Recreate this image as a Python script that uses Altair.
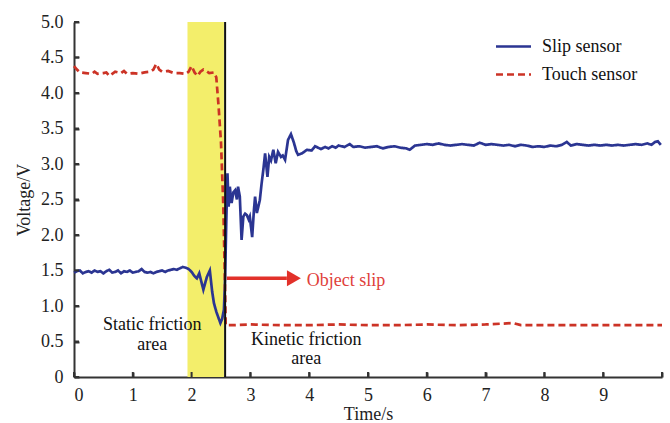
import altair as alt
import pandas as pd

# ---- data ----
slip_t = [0.00, 0.05, 0.10, 0.15, 0.20, 0.25, 0.30, 0.35, 0.40, 0.45, 0.50, 0.55, 0.60, 0.65, 0.70,
          0.75, 0.80, 0.85, 0.90, 0.95, 1.00, 1.05, 1.10, 1.15, 1.20, 1.25, 1.30, 1.35, 1.40, 1.45,
          1.50, 1.55, 1.60, 1.65, 1.70, 1.75, 1.80, 1.85, 1.90, 1.95, 2.00, 2.05, 2.09, 2.13, 2.20,
          2.26, 2.31, 2.35, 2.38, 2.42, 2.45, 2.49, 2.52, 2.55, 2.57, 2.59, 2.61, 2.63, 2.65, 2.68,
          2.71, 2.74, 2.77, 2.79, 2.82, 2.85, 2.88, 2.91, 2.94, 2.97, 2.99, 3.03, 3.06, 3.08, 3.11,
          3.16, 3.19, 3.22, 3.25, 3.29, 3.32, 3.35, 3.39, 3.43, 3.47, 3.52, 3.55, 3.59, 3.64, 3.69,
          3.74, 3.78, 3.81, 3.88, 3.96, 4.04, 4.10, 4.15, 4.20, 4.27, 4.33, 4.39, 4.45, 4.50, 4.60,
          4.69, 4.75, 4.85, 4.95, 5.05, 5.15, 5.25, 5.35, 5.45, 5.55, 5.65, 5.71, 5.80, 5.90, 6.00,
          6.10, 6.20, 6.30, 6.40, 6.50, 6.60, 6.70, 6.80, 6.90, 7.00, 7.10, 7.20, 7.30, 7.40, 7.50,
          7.60, 7.70, 7.80, 7.90, 8.00, 8.10, 8.20, 8.30, 8.38, 8.45, 8.55, 8.65, 8.75, 8.85, 8.95,
          9.05, 9.15, 9.25, 9.35, 9.45, 9.55, 9.65, 9.75, 9.82, 9.88, 9.93, 9.98]
slip_v = [1.47, 1.49, 1.50, 1.46, 1.48, 1.49, 1.47, 1.50, 1.48, 1.49, 1.46, 1.49, 1.51, 1.47, 1.48,
          1.50, 1.46, 1.49, 1.48, 1.50, 1.47, 1.48, 1.49, 1.52, 1.48, 1.47, 1.48, 1.46, 1.48, 1.49,
          1.50, 1.48, 1.50, 1.51, 1.52, 1.51, 1.53, 1.55, 1.54, 1.52, 1.48, 1.42, 1.39, 1.46, 1.23,
          1.41, 1.50, 1.20, 1.04, 0.92, 0.85, 0.76, 0.82, 0.95, 1.40, 2.20, 2.87, 2.40, 2.68, 2.45,
          2.60, 2.63, 2.50, 2.68, 2.54, 1.93, 2.26, 2.30, 2.28, 2.22, 2.26, 1.97, 2.35, 2.54, 2.31,
          2.49, 2.72, 2.92, 3.15, 2.82, 3.10, 3.05, 3.20, 3.01, 3.17, 3.10, 3.12, 3.06, 3.34, 3.42,
          3.30, 3.18, 3.13, 3.15, 3.20, 3.19, 3.25, 3.23, 3.21, 3.24, 3.22, 3.25, 3.23, 3.26, 3.24,
          3.28, 3.24, 3.25, 3.23, 3.24, 3.25, 3.22, 3.24, 3.25, 3.23, 3.22, 3.20, 3.26, 3.27, 3.28,
          3.27, 3.29, 3.27, 3.26, 3.27, 3.28, 3.27, 3.26, 3.30, 3.27, 3.28, 3.27, 3.26, 3.27, 3.25,
          3.27, 3.26, 3.24, 3.25, 3.24, 3.26, 3.25, 3.27, 3.31, 3.26, 3.28, 3.27, 3.26, 3.27, 3.26,
          3.27, 3.26, 3.27, 3.26, 3.27, 3.28, 3.27, 3.29, 3.27, 3.31, 3.32, 3.27]

touch_t = [0.00, 0.05, 0.10, 0.20, 0.30, 0.35, 0.40, 0.50, 0.55, 0.60, 0.65, 0.70, 0.80, 0.85, 0.90,
           1.00, 1.10, 1.20, 1.30, 1.35, 1.40, 1.45, 1.50, 1.60, 1.70, 1.80, 1.90, 1.95, 2.00, 2.05,
           2.10, 2.15, 2.20, 2.25, 2.30, 2.38, 2.42, 2.46, 2.50, 2.54, 2.57, 2.58, 2.70, 3.00, 3.50,
           4.00, 4.50, 5.00, 5.50, 6.00, 6.50, 7.00, 7.47, 7.60, 8.00, 8.50, 9.00, 9.50, 10.00]
touch_v = [4.38, 4.33, 4.29, 4.28, 4.27, 4.30, 4.27, 4.28, 4.29, 4.24, 4.27, 4.30, 4.28, 4.31, 4.27,
           4.28, 4.27, 4.29, 4.30, 4.33, 4.41, 4.33, 4.30, 4.31, 4.28, 4.28, 4.27, 4.30, 4.38, 4.29,
           4.24, 4.30, 4.33, 4.31, 4.28, 4.29, 4.22, 3.80, 3.30, 2.40, 1.20, 0.73, 0.73, 0.74, 0.73,
           0.73, 0.74, 0.73, 0.73, 0.74, 0.73, 0.74, 0.76, 0.73, 0.73, 0.73, 0.73, 0.73, 0.73]

series_names = ["Slip sensor", "Touch sensor"]
series_colors = ["#2b3592", "#cc3326"]

band_start, band_end = 1.93, 2.55
slip_instant = 2.57
arrow_t = [2.60, 3.62]
arrow_v = 1.39
arrow_head_t = 3.74

x_ticks = list(range(11))
y_ticks = [0, 0.5, 1.0, 1.5, 2.0, 2.5, 3.0, 3.5, 4.0, 4.5, 5.0]

FONT = "Liberation Serif"
FS = 18
W, H = 588, 355
TICK = 5

lines_df = pd.concat([
    pd.DataFrame({"t": slip_t, "v": slip_v, "series": series_names[0]}),
    pd.DataFrame({"t": touch_t, "v": touch_v, "series": series_names[1]}),
])

xs = alt.Scale(domain=[0, 10], nice=False)
ys = alt.Scale(domain=[0, 5], nice=False)

x_axis = alt.Axis(values=x_ticks, title="Time/s", labelExpr="datum.value == 10 ? '' : datum.label",
                  tickSize={"expr": "-5"}, labelPadding=14, titlePadding=1, grid=False)
y_axis = alt.Axis(values=y_ticks, title="Voltage/V",
                  labelExpr="datum.value == 0 ? '0' : format(datum.value, '.1f')",
                  tickSize={"expr": "-5"}, labelPadding=16, titlePadding=7, grid=False)

X = alt.X("t:Q", scale=xs, axis=x_axis)
Y = alt.Y("v:Q", scale=ys, axis=y_axis)

leg = alt.Legend(title=None, orient="none", legendX=428, legendY=13,
                 symbolType="M-1.75,0H1.75", symbolSize=400,
                 symbolStrokeWidth=2.5, labelFont=FONT, labelFontSize=FS,
                 labelColor="#111", labelOffset=17, rowPadding=7, padding=0)

band = alt.Chart(pd.DataFrame({"t": [band_start], "t2": [band_end], "v": [0.0], "v2": [5.0]})).mark_rect(
    color="#f3ee6b").encode(x=X, x2="t2:Q", y=Y, y2="v2:Q")

lines = alt.Chart(lines_df).mark_line(strokeWidth=2.7).encode(
    x=X, y=Y,
    color=alt.Color("series:N", scale=alt.Scale(domain=series_names, range=series_colors), legend=leg),
    strokeDash=alt.StrokeDash("series:N", scale=alt.Scale(domain=series_names, range=[[1, 0], [7, 4]]),
                              legend=leg),
    order="t:Q",
)

rule = alt.Chart(pd.DataFrame({"t": [slip_instant], "v": [0.0], "v2": [5.0]})).mark_rule(
    color="#111", strokeWidth=2).encode(x=X, y=Y, y2="v2:Q")

# inward tick marks (drawn at the tick values through the scales)
xtick_marks = alt.Chart(pd.DataFrame({"t": x_ticks, "v": [0.0] * len(x_ticks)})).mark_rule(
    color="#333", strokeWidth=2).encode(x=X, y=Y, y2=alt.value(H - TICK))
ytick_marks = alt.Chart(pd.DataFrame({"t": [0.0] * len(y_ticks), "v": y_ticks})).mark_rule(
    color="#333", strokeWidth=2).encode(x=X, x2=alt.value(TICK), y=Y)

arrow_line = alt.Chart(pd.DataFrame({"t": [arrow_t[0]], "t2": [arrow_t[1]], "v": [arrow_v]})).mark_rule(
    color="#e2312a", strokeWidth=3.5).encode(x=X, x2="t2:Q", y=Y)
arrow_head = alt.Chart(pd.DataFrame({"t": [arrow_head_t], "v": [arrow_v]})).mark_point(
    shape="triangle-right", filled=True, opacity=1, color="#e2312a", size=260).encode(x=X, y=Y)

ann_df = pd.DataFrame({
    "t": [3.96, 1.33, 1.33, 3.95, 3.95],
    "v": [1.35, 0.73, 0.45, 0.52, 0.25],
    "txt": ["Object slip", "Static friction", "area", "Kinetic friction", "area"],
    "al": ["left", "center", "center", "center", "center"],
})
ann_left = alt.Chart(ann_df[ann_df.al == "left"]).mark_text(
    align="left", baseline="middle", font=FONT, fontSize=FS, color="#e0403a").encode(x=X, y=Y, text="txt:N")
ann_center = alt.Chart(ann_df[ann_df.al == "center"]).mark_text(
    align="center", baseline="middle", font=FONT, fontSize=FS, color="#111111").encode(x=X, y=Y, text="txt:N")

chart = alt.layer(band, lines, rule, xtick_marks, ytick_marks, arrow_line, arrow_head,
                  ann_left, ann_center).properties(
    width=W, height=H,
    padding={"left": 74, "top": 22, "right": 8, "bottom": 46},
    autosize=alt.AutoSizeParams(type="none"),
    background="white",
).configure_view(stroke=None).configure_axis(
    domainColor="#333", domainWidth=2, tickColor="#333", tickWidth=2,
    labelFont=FONT, labelFontSize=FS, labelColor="#222",
    titleFont=FONT, titleFontSize=FS, titleFontWeight="normal", titleColor="#222",
)

chart.save("out.html", embed_options={"renderer": "svg", "actions": False})
